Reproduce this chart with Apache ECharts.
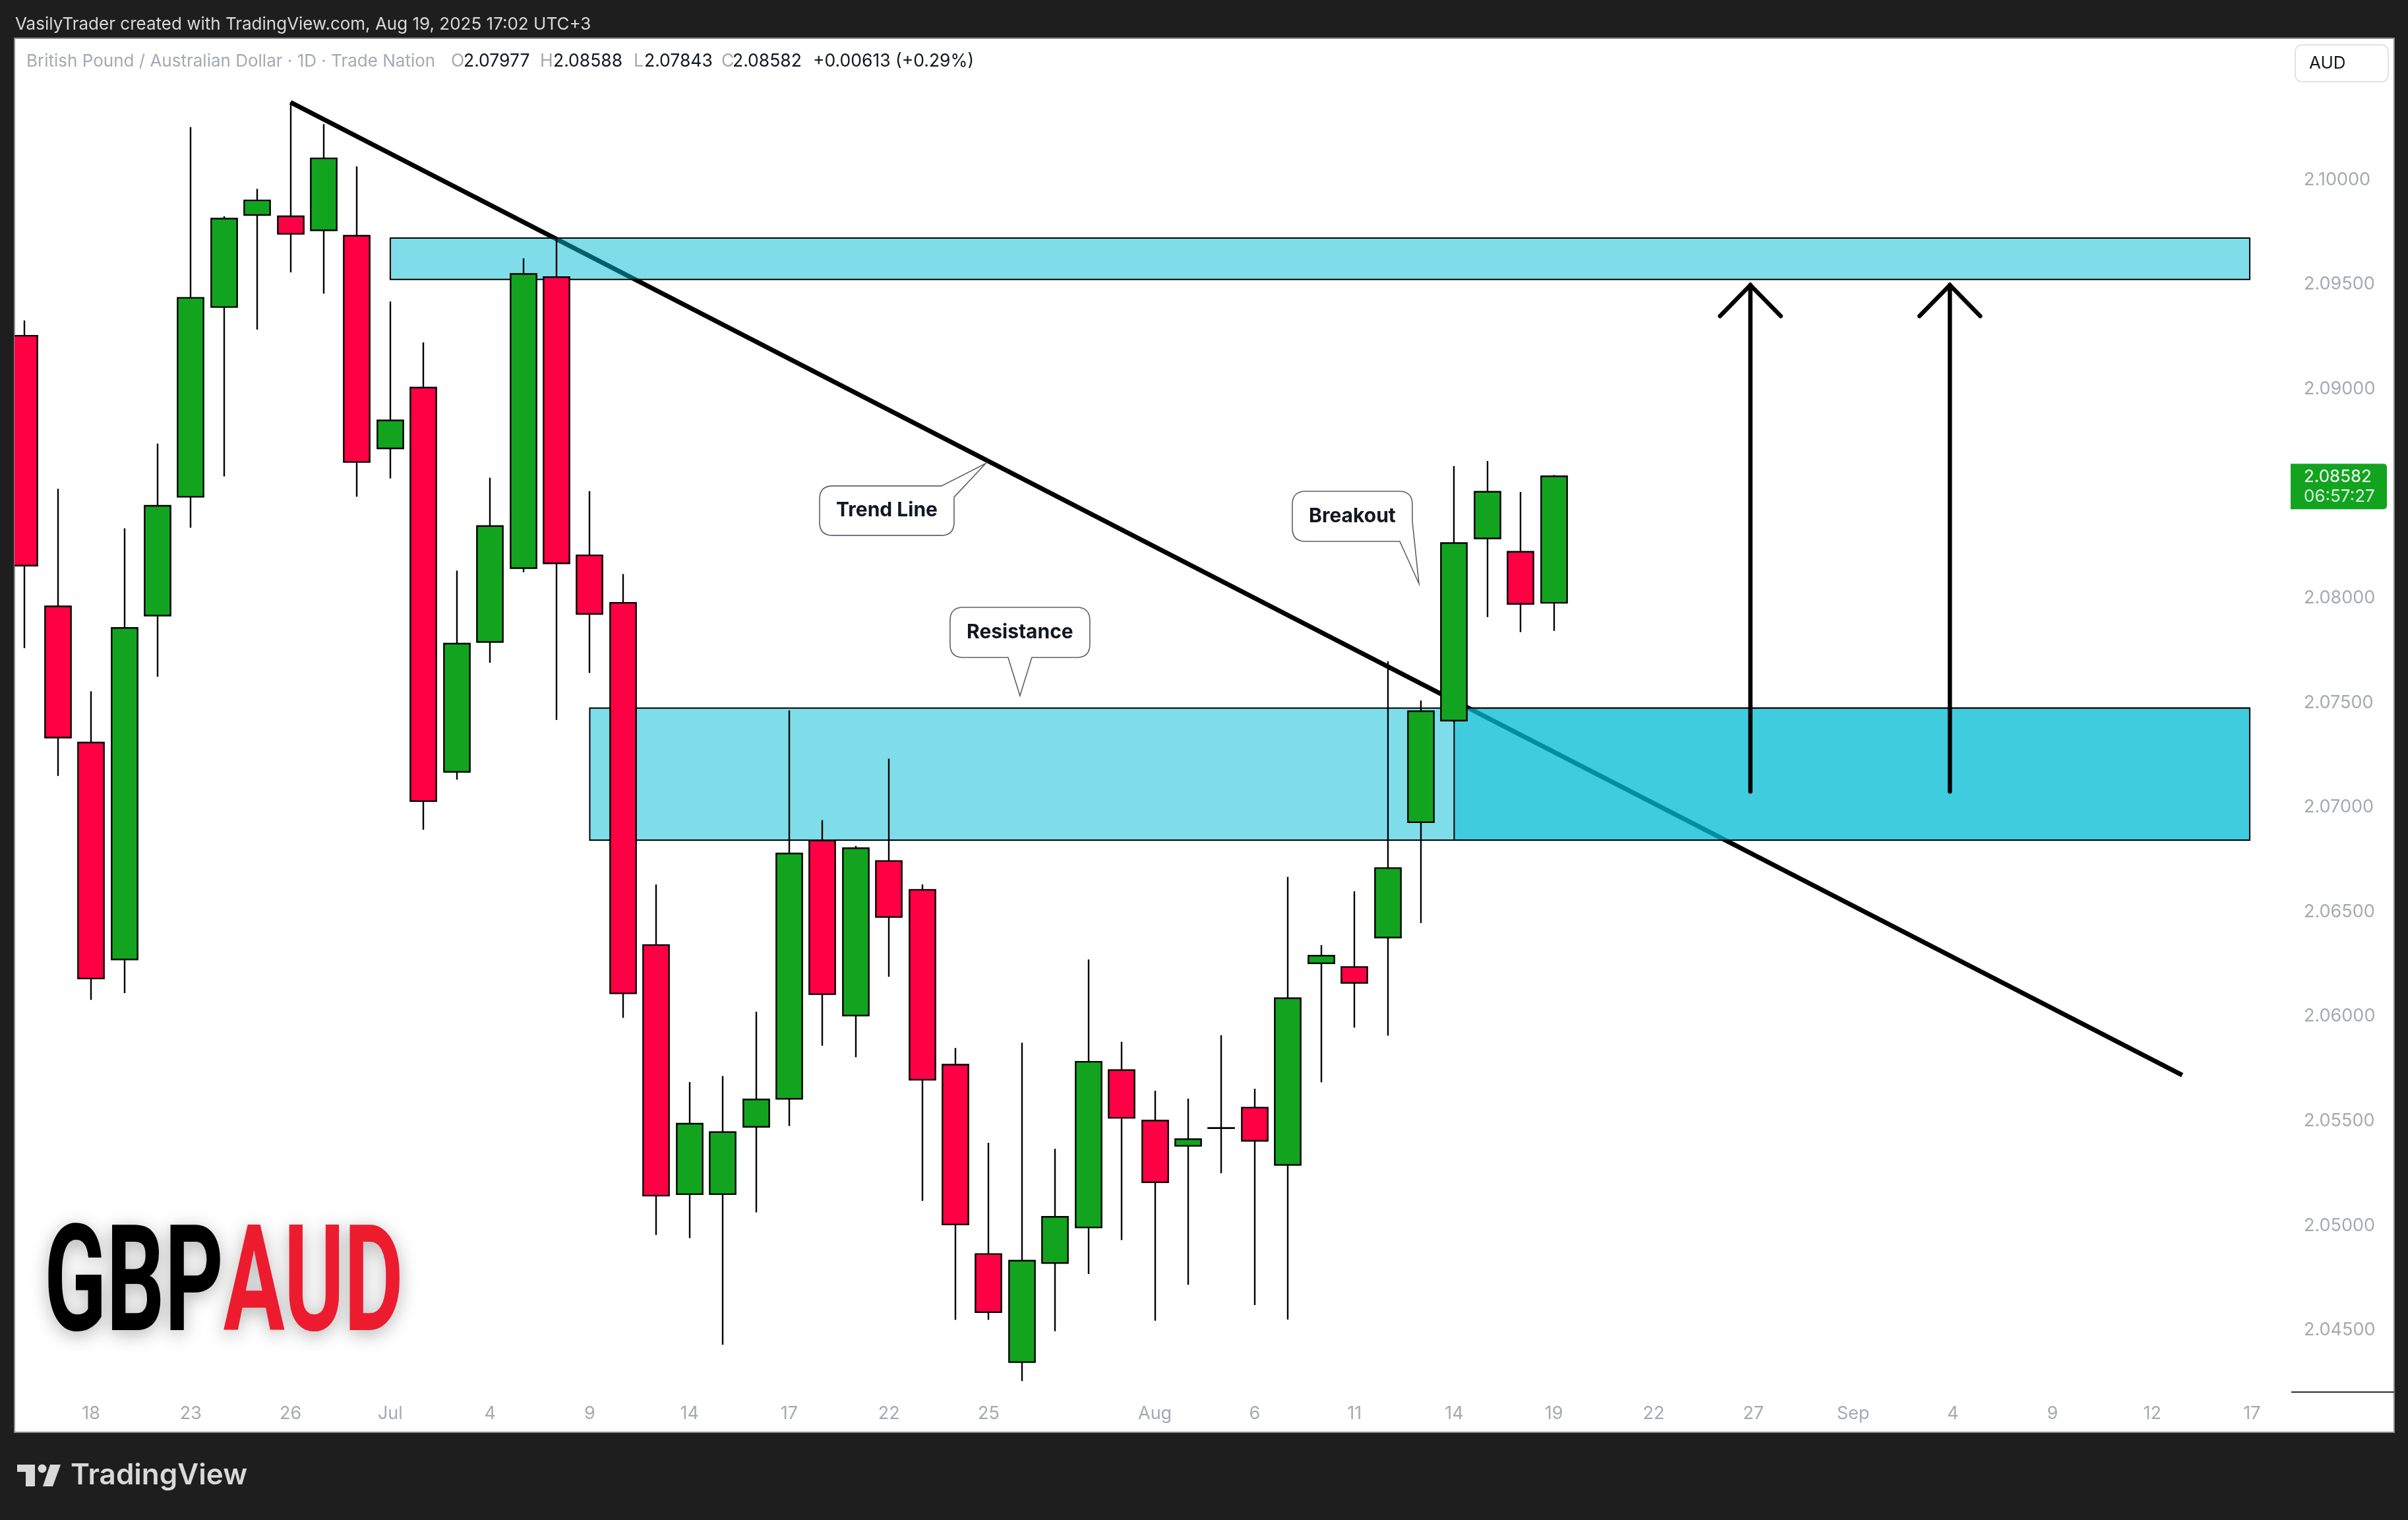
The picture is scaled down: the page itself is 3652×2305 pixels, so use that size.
<!DOCTYPE html>
<html><head><meta charset="utf-8">
<style>html,body{margin:0;padding:0;background:#1e1e1e;}#c{width:3652px;height:2305px;}</style>
<script src="https://cdn.jsdelivr.net/npm/echarts@6/dist/echarts.min.js"></script>
</head><body><div id="c"></div>
<script>
// ---- data ----
const dates = ['Jun 16','Jun 17','Jun 18','Jun 19','Jun 20','Jun 23','Jun 24','Jun 25','Jun 26','Jun 27','Jun 30',
  'Jul 1','Jul 2','Jul 3','Jul 4','Jul 7','Jul 8','Jul 9','Jul 10','Jul 11','Jul 14','Jul 15','Jul 16','Jul 17','Jul 18',
  'Jul 21','Jul 22','Jul 23','Jul 24','Jul 25','Jul 28','Jul 29','Jul 30','Jul 31','Aug 1','Aug 4','Aug 5','Aug 6','Aug 7',
  'Aug 8','Aug 11','Aug 12','Aug 13','Aug 14','Aug 15','Aug 18','Aug 19'];
const opens  = [2.09254,2.07960,2.07309,2.06272,2.07916,2.08484,2.09391,2.09831,2.09825,2.09758,2.09732,
  2.08715,2.09006,2.07169,2.07790,2.08143,2.09534,2.08204,2.07977,2.06341,2.05150,2.05150,2.05472,2.05606,2.06841,
  2.06004,2.06743,2.06605,2.05769,2.04864,2.04347,2.04821,2.04991,2.05743,2.05502,2.05381,2.05466,2.05564,2.05290,
  2.06254,2.06236,2.06377,2.06928,2.07414,2.08285,2.08221,2.07977];
const highs  = [2.09327,2.08522,2.07554,2.08333,2.08738,2.10251,2.09825,2.09956,2.10370,2.10265,2.10064,
  2.09417,2.09222,2.08131,2.08575,2.09624,2.09720,2.08511,2.08115,2.06631,2.05686,2.05715,2.06022,2.07463,2.06938,
  2.06815,2.07232,2.06631,2.05849,2.05396,2.05874,2.05367,2.06272,2.05879,2.05645,2.05607,2.05910,2.05654,2.06667,
  2.06341,2.06598,2.07698,2.07510,2.08631,2.08655,2.08507,2.08588];
const lows   = [2.07761,2.07149,2.06079,2.06111,2.07624,2.08336,2.08581,2.09283,2.09557,2.09455,2.08484,
  2.08572,2.06892,2.07132,2.07691,2.08123,2.07417,2.07642,2.05993,2.04955,2.04940,2.04430,2.05063,2.05476,2.05860,
  2.05805,2.06189,2.05118,2.04549,2.04549,2.04257,2.04495,2.04768,2.04931,2.04545,2.04717,2.05250,2.04620,2.04551,
  2.05685,2.05946,2.05908,2.06446,2.07405,2.07909,2.07837,2.07843];
const closes = [2.08155,2.07333,2.06181,2.07857,2.08441,2.09435,2.09814,2.09901,2.09741,2.10102,2.08650,
  2.08849,2.07029,2.07782,2.08344,2.09549,2.08166,2.07924,2.06110,2.05143,2.05487,2.05447,2.05603,2.06779,2.06106,
  2.06804,2.06475,2.05697,2.05005,2.04586,2.04832,2.05042,2.05783,2.05515,2.05207,2.05413,2.05467,2.05405,2.06087,
  2.06290,2.06160,2.06709,2.07459,2.08263,2.08508,2.07972,2.08582];
const tickIndex  = [2,5,8,11,14,17,20,23,26,29,34,37,40,43,46,49,52,55,58,61,64,67];
const tickLabels = ['18','23','26','Jul','4','9','14','17','22','25','Aug','6','11','14','19','22','27','Sep','4','9','12','17'];
const priceTicks = [2.045,2.05,2.055,2.06,2.065,2.07,2.075,2.08,2.09,2.095,2.10];
const trendLine = [[8, 2.10370], [64.9, 2.05719]];
const zoneTop    = [[11, 2.09721, 66.93, 2.09523]];
const zoneLower  = [[17, 2.07474, 66.93, 2.06843], [43, 2.07474, 66.93, 2.06843]];
const arrowX = [51.91, 57.91];
const arrowFrom = [2.07075, 2.07075];
const arrowTo = [2.09496, 2.09496];
const calloutText  = ['Trend Line', 'Resistance', 'Breakout'];
const calloutIdx   = [28.91, 29.94, 41.94];
const calloutPrice = [2.08643, 2.07533, 2.08069];
const countdown = '06:57:27';

// ---- chart ----
const GREEN = '#12A41F', RED = '#FF0045';
const chart = echarts.init(document.getElementById('c'));
const last = closes.length - 1;
const labelMap = {}; tickIndex.forEach((v, i) => labelMap[v] = tickLabels[i]);

function calloutPath(k, tx, ty) {
  const r = 20; let x0, y0, x1, y1, d;
  if (k === 0) {
    x0 = tx - 252; x1 = tx - 48; y0 = ty + 34; y1 = ty + 109;
    d = `M${x0 + r},${y0} L${tx - 67},${y0} L${tx},${ty} L${x1},${y0 + 17} L${x1},${y1 - r} Q${x1},${y1} ${x1 - r},${y1} L${x0 + r},${y1} Q${x0},${y1} ${x0},${y1 - r} L${x0},${y0 + r} Q${x0},${y0} ${x0 + r},${y0} Z`;
  } else if (k === 1) {
    x0 = tx - 106; x1 = tx + 106; y0 = ty - 134; y1 = ty - 58;
    d = `M${x0 + r},${y0} L${x1 - r},${y0} Q${x1},${y0} ${x1},${y0 + r} L${x1},${y1 - r} Q${x1},${y1} ${x1 - r},${y1} L${tx + 18},${y1} L${tx},${ty} L${tx - 18},${y1} L${x0 + r},${y1} Q${x0},${y1} ${x0},${y1 - r} L${x0},${y0 + r} Q${x0},${y0} ${x0 + r},${y0} Z`;
  } else {
    x0 = tx - 192; x1 = tx - 10; y0 = ty - 140; y1 = ty - 64;
    d = `M${x0 + r},${y0} L${x1 - r},${y0} Q${x1},${y0} ${x1},${y0 + r} L${x1},${y1 - 31} L${tx},${ty} L${x1 - 19},${y1} L${x0 + r},${y1} Q${x0},${y1} ${x0},${y1 - r} L${x0},${y0 + r} Q${x0},${y0} ${x0 + r},${y0} Z`;
  }
  return { d, cx: (x0 + x1) / 2, cy: (y0 + y1) / 2 };
}

const HF = '26.5px Inter';
const option = {
  animation: false,
  backgroundColor: '#1e1e1e',
  grid: { left: 22, right: 177, top: 58, bottom: 194, containLabel: false },
  xAxis: {
    type: 'value', min: -0.303, max: 68.18,
    axisLine: { show: false }, axisTick: { show: false }, splitLine: { show: false },
    axisLabel: { customValues: tickIndex, margin: 19, color: '#a6a9b3', fontSize: 27, fontFamily: 'Inter',
      formatter: v => labelMap[Math.round(v)] || '' }
  },
  yAxis: {
    type: 'value', position: 'right', min: 2.04204, max: 2.10676, scale: true,
    axisLine: { show: false }, axisTick: { show: false }, splitLine: { show: false },
    axisLabel: { customValues: priceTicks, margin: 19, color: '#a6a9b3', fontSize: 27, fontFamily: 'Inter',
      formatter: v => v.toFixed(5) }
  },
  graphic: [
    { type: 'rect', z: -10, shape: { x: 22, y: 58, width: 3609, height: 2114 }, style: { fill: '#ffffff', stroke: '#8c8c8c', lineWidth: 2 } },
    { type: 'text', x: 23, y: 37, style: { text: 'VasilyTrader created with TradingView.com, Aug 19, 2025 17:02 UTC+3', fill: '#d9d9d9', font: '26px Inter', verticalAlign: 'middle' } },
    { type: 'text', x: 40, y: 93, style: { text: 'British Pound / Australian Dollar · 1D · Trade Nation', fill: '#a6a9b3', font: '26px Inter', verticalAlign: 'middle' } },
    { type: 'text', x: 684, y: 93, style: { text: 'O', fill: '#a6a9b3', font: HF, verticalAlign: 'middle' } },
    { type: 'text', x: 703, y: 93, style: { text: opens[last].toFixed(5), fill: '#131722', font: HF, verticalAlign: 'middle' } },
    { type: 'text', x: 819, y: 93, style: { text: 'H', fill: '#a6a9b3', font: HF, verticalAlign: 'middle' } },
    { type: 'text', x: 839, y: 93, style: { text: highs[last].toFixed(5), fill: '#131722', font: HF, verticalAlign: 'middle' } },
    { type: 'text', x: 961, y: 93, style: { text: 'L', fill: '#a6a9b3', font: HF, verticalAlign: 'middle' } },
    { type: 'text', x: 977, y: 93, style: { text: lows[last].toFixed(5), fill: '#131722', font: HF, verticalAlign: 'middle' } },
    { type: 'text', x: 1094, y: 93, style: { text: 'C', fill: '#a6a9b3', font: HF, verticalAlign: 'middle' } },
    { type: 'text', x: 1111, y: 93, style: { text: closes[last].toFixed(5), fill: '#131722', font: HF, verticalAlign: 'middle' } },
    { type: 'text', x: 1233, y: 93, style: { text: '+0.00613 (+0.29%)', fill: '#131722', font: HF, verticalAlign: 'middle' } },
    { type: 'rect', shape: { x: 3481, y: 68, width: 141, height: 56, r: 10 }, style: { fill: '#fff', stroke: '#e0e3eb', lineWidth: 2 } },
    { type: 'text', x: 3502, y: 96, style: { text: 'AUD', fill: '#131722', font: '26px Inter', verticalAlign: 'middle' } },
    { type: 'line', shape: { x1: 3475, y1: 2111, x2: 3631, y2: 2111 }, style: { stroke: '#2a2e39', lineWidth: 2 } },
    { type: 'text', x: 67, y: 1961, scaleX: 0.615, z: 1,
      style: { text: '{a|GBP}{b|AUD}', font: 'bold 225px Roboto', verticalAlign: 'middle',
        rich: { a: { fill: '#000000', font: 'bold 225px Roboto', textShadowColor: 'rgba(0,0,0,0.3)', textShadowBlur: 28, textShadowOffsetY: 6 },
                b: { fill: '#EC1C2E', font: 'bold 225px Roboto', textShadowColor: 'rgba(0,0,0,0.3)', textShadowBlur: 28, textShadowOffsetY: 6 } } } },
    { type: 'rect', shape: { x: 26, y: 2221, width: 27, height: 11 }, style: { fill: '#d9d9d9' } },
    { type: 'rect', shape: { x: 39, y: 2221, width: 14, height: 33 }, style: { fill: '#d9d9d9' } },
    { type: 'circle', shape: { cx: 64, cy: 2227, r: 6.5 }, style: { fill: '#d9d9d9' } },
    { type: 'polygon', shape: { points: [[65, 2254], [80, 2254], [92, 2221], [76, 2221]] }, style: { fill: '#d9d9d9' } },
    { type: 'text', x: 107, y: 2238, style: { text: 'TradingView', fill: '#d9d9d9', font: '600 44px Inter', verticalAlign: 'middle' } }
  ],
  series: [
    { type: 'line', name: 'Trend', data: trendLine, symbol: 'none', z: 2, silent: true,
      lineStyle: { color: '#000', width: 7 } },
    { type: 'custom', name: 'Zones', z: 3, clip: true, silent: true,
      data: zoneTop.concat(zoneLower), encode: { x: [0, 2], y: [1, 3] },
      renderItem: (params, api) => {
        const a = api.coord([api.value(0), api.value(1)]);
        const b = api.coord([api.value(2), api.value(3)]);
        return { type: 'rect', shape: { x: a[0], y: a[1], width: b[0] - a[0], height: b[1] - a[1] },
          style: { fill: 'rgba(0,188,212,0.5)', stroke: '#000', lineWidth: 2 } };
      } },
    { type: 'custom', name: 'GBPAUD', z: 5, clip: true,
      data: dates.map((d, i) => [i, opens[i], highs[i], lows[i], closes[i]]),
      encode: { x: 0, y: [1, 2, 3, 4] },
      renderItem: (params, api) => {
        const i = api.value(0), o = api.value(1), h = api.value(2), l = api.value(3), c = api.value(4);
        const pO = api.coord([i, o]), pC = api.coord([i, c]), pH = api.coord([i, h]), pL = api.coord([i, l]);
        const w = api.size([1, 0])[0] * 0.78;
        const x = Math.round(pO[0]);
        const top = Math.min(pO[1], pC[1]), bot = Math.max(pO[1], pC[1]);
        return { type: 'group', children: [
          { type: 'line', shape: { x1: x, y1: pH[1], x2: x, y2: pL[1] }, style: { stroke: '#000', lineWidth: 2.4 } },
          { type: 'rect', shape: { x: x - w / 2, y: top, width: w, height: Math.max(bot - top, 0.5) },
            style: { fill: c >= o ? GREEN : RED, stroke: '#000', lineWidth: 2.4 } }
        ] };
      } },
    { type: 'custom', name: 'Arrows', z: 6, clip: false, silent: true,
      data: arrowX.map((x, i) => [x, arrowFrom[i], arrowTo[i]]), encode: { x: 0, y: [1, 2] },
      renderItem: (params, api) => {
        const a = api.coord([api.value(0), api.value(1)]);
        const b = api.coord([api.value(0), api.value(2)]);
        return { type: 'group', children: [
          { type: 'line', shape: { x1: a[0], y1: a[1], x2: b[0], y2: b[1] }, style: { stroke: '#000', lineWidth: 6.5, lineCap: 'round' } },
          { type: 'polyline', shape: { points: [[b[0] - 46, b[1] + 47], [b[0], b[1]], [b[0] + 46, b[1] + 47]] },
            style: { stroke: '#000', lineWidth: 6.5, lineCap: 'round', fill: 'none' } }
        ] };
      } },
    { type: 'custom', name: 'Callouts', z: 7, clip: false, silent: true,
      data: calloutIdx.map((x, i) => [x, calloutPrice[i]]), encode: { x: 0, y: 1 },
      renderItem: (params, api) => {
        const p = api.coord([api.value(0), api.value(1)]);
        const c = calloutPath(params.dataIndex, p[0], p[1]);
        return { type: 'group', children: [
          { type: 'path', shape: { pathData: c.d }, style: { fill: '#fff', stroke: '#5d606b', lineWidth: 1.6 } },
          { type: 'text', x: c.cx, y: c.cy, style: { text: calloutText[params.dataIndex], fill: '#131722', font: 'bold 30px Inter', align: 'center', verticalAlign: 'middle' } }
        ] };
      } },
    { type: 'custom', name: 'LastPrice', z: 20, clip: false, silent: true,
      data: [[last, closes[last]]], encode: { x: 0, y: 1 },
      renderItem: (params, api) => {
        const p = api.coord([api.value(0), api.value(1)]);
        const xr = params.coordSys.x + params.coordSys.width;
        return { type: 'group', children: [
          { type: 'rect', shape: { x: xr - 1, y: p[1] - 19, width: 146, height: 69, r: [0, 5, 5, 0] }, style: { fill: GREEN } },
          { type: 'text', x: xr + 19, y: p[1] + 1, style: { text: api.value(1).toFixed(5), fill: '#fff', font: '26px Inter', verticalAlign: 'middle' } },
          { type: 'text', x: xr + 19, y: p[1] + 31, style: { text: countdown, fill: 'rgba(255,255,255,0.85)', font: '26px Inter', verticalAlign: 'middle' } }
        ] };
      } }
  ]
};
chart.setOption(option);
</script></body></html>
